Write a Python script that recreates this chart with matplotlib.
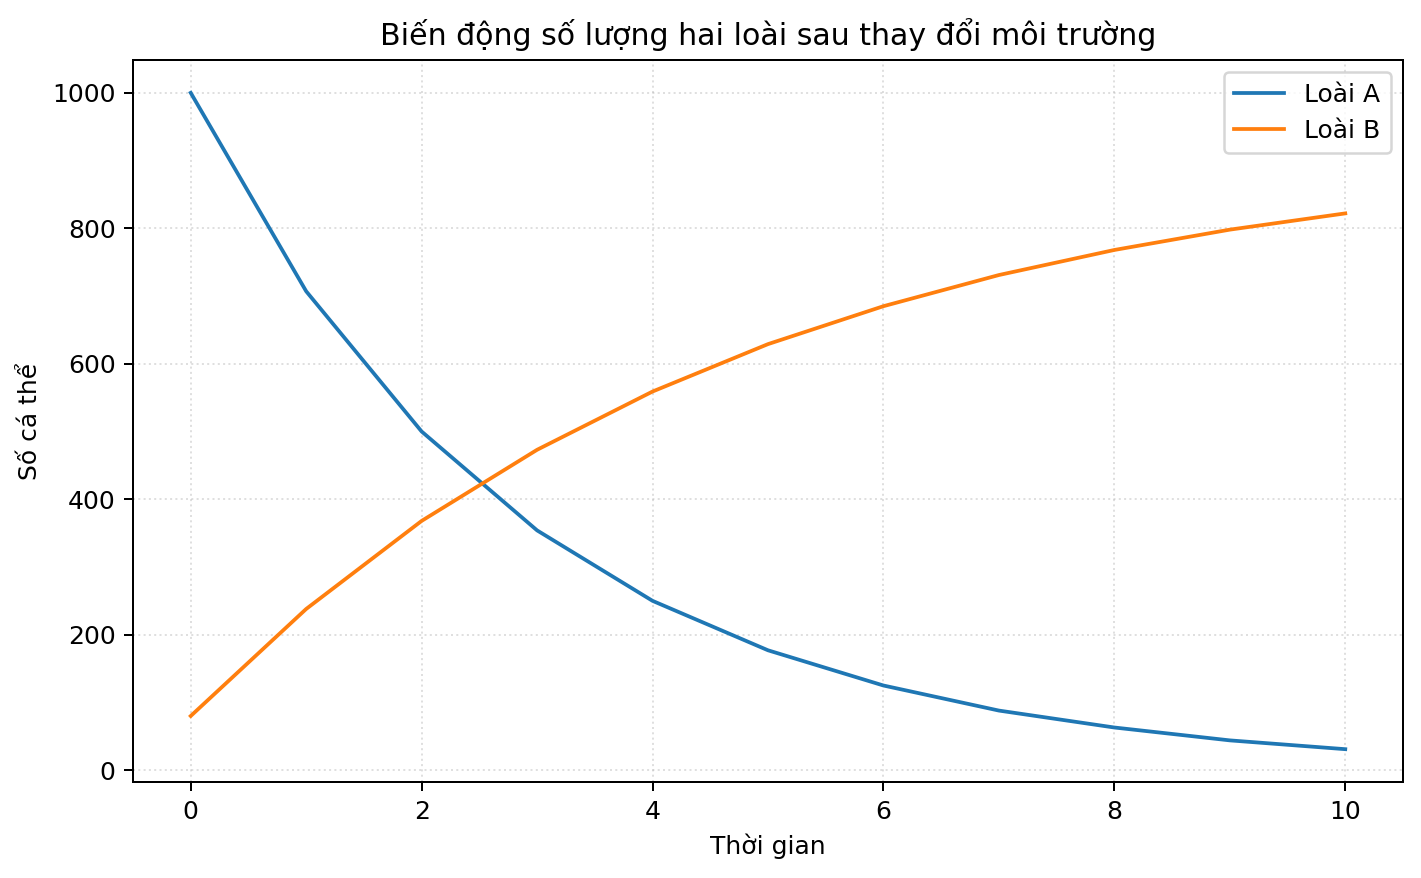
import matplotlib
matplotlib.use("Agg")
import matplotlib.pyplot as plt

time = [0, 1, 2, 3, 4, 5, 6, 7, 8, 9, 10]
species_a = [1000, 707, 500, 354, 250, 177, 125, 88, 63, 44, 31]
species_b = [80, 238, 368, 473, 559, 629, 685, 731, 768, 798, 822]

fig, ax = plt.subplots(figsize=(1421/180, 878/180), dpi=180)
ax.plot(time, species_a, label="Loài A")
ax.plot(time, species_b, label="Loài B")
ax.set_title("Biến động số lượng hai loài sau thay đổi môi trường")
ax.set_xlabel("Thời gian")
ax.set_ylabel("Số cá thể")
ax.grid(True, linestyle=":", alpha=0.4)
ax.legend(loc="upper right")
fig.subplots_adjust(left=133/1421, right=1403/1421, top=1-60/878, bottom=1-782/878)
fig.savefig("out.png", dpi=180)
